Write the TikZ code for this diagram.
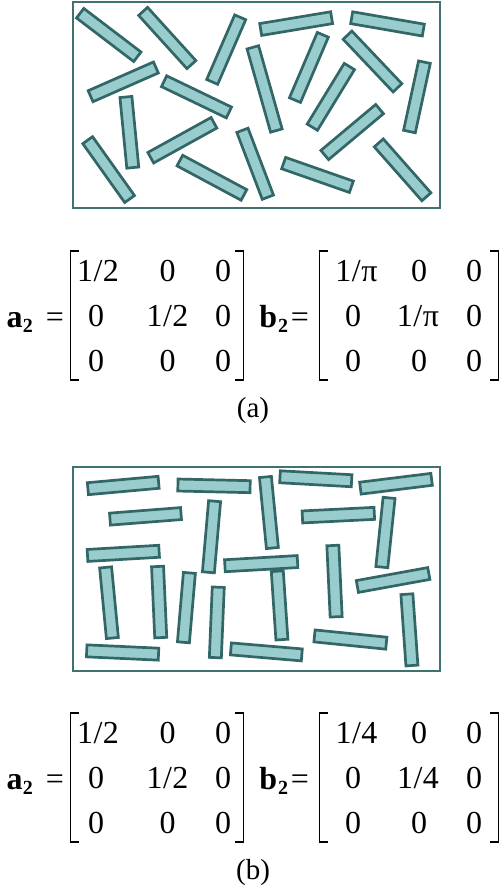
\documentclass[tikz,border=0pt]{standalone}
\usepackage{fontspec}
\setmainfont{Liberation Serif}
\usetikzlibrary{calc}
\definecolor{fibfill}{HTML}{99CCCC}
\definecolor{fibline}{HTML}{336666}
\definecolor{boxline}{HTML}{417272}
\newcommand\fib[4]{%
  \coordinate (fa) at ($(#1,#2)!1.2pt!(#3,#4)$);
  \coordinate (fb) at ($(#3,#4)!1.2pt!(#1,#2)$);
  \draw[fiber] ($(fa)!6pt!90:(fb)$) -- ($(fa)!6pt!-90:(fb)$) -- ($(fb)!6pt!90:(fa)$) -- ($(fb)!6pt!-90:(fa)$) -- cycle;}
\newcommand\brk[4]{% x, ytop, ybottom, tick length (signed)
  \draw[bracket] ($(#1,#2)+(#4,0)$) -- (#1,#2) -- (#1,#3) -- ($(#1,#3)+(#4,0)$);}
\begin{document}
\begin{tikzpicture}[x=1pt,y=-1pt,
  fiber/.style={draw=fibline, fill=fibfill, line width=2.7pt, line join=miter},
  panel/.style={draw=boxline, line width=2pt},
  bracket/.style={draw=black, line width=1.5pt},
  txt/.style={font=\fontsize{32}{36}\selectfont, inner sep=0pt, anchor=base},
  subtxt/.style={font=\fontsize{20}{22}\selectfont\bfseries, inner sep=0pt, anchor=base},
  lbl/.style={font=\fontsize{29}{33}\selectfont, inner sep=0pt, anchor=base}]
\useasboundingbox (0,0) rectangle (503,896);
% ---------------- panel (a) ----------------
\draw[panel] (72.5,2.5) rectangle (439.5,207.5);
\fib{79.2}{12.5}{138.3}{57.5}
\fib{142.3}{10.5}{192.2}{65.5}
\fib{240.7}{16.2}{211.7}{83}
\fib{89.5}{96.7}{157}{67}
\fib{163}{80.7}{230}{113}
\fib{125.8}{95.8}{132.9}{168.8}
\fib{87}{139.2}{130.3}{200}
\fib{149.7}{158.3}{215}{122.2}
\fib{178.8}{160}{245}{195.5}
\fib{242}{129.2}{268.3}{198.3}
\fib{259.5}{29.7}{332.8}{17.5}
\fib{350.5}{17.5}{424.5}{30.3}
\fib{252.5}{46.2}{276.7}{131.7}
\fib{323.3}{33.7}{294.5}{101.2}
\fib{346.7}{34.3}{398.3}{88.7}
\fib{424.7}{61}{409.2}{132.7}
\fib{350}{65.5}{311.7}{128.2}
\fib{323.8}{155.8}{380.5}{108.3}
\fib{282.5}{162.7}{352.5}{187.2}
\fib{378}{142}{427.2}{197.7}
% ---------------- panel (b) ----------------
\draw[panel] (72.5,466.5) rectangle (439.5,671);
\fib{86.7}{488.8}{159.8}{482.2}
\fib{176.7}{485}{251.3}{486.7}
\fib{108.8}{519.2}{182.2}{513.5}
\fib{86.3}{555.5}{160.3}{551.2}
\fib{214.7}{500}{208.3}{573.5}
\fib{265.3}{475.8}{272.5}{549.2}
\fib{278.8}{476.7}{352.8}{480.8}
\fib{359.2}{488.3}{432.8}{479.2}
\fib{301.2}{517}{375.5}{513.3}
\fib{389.2}{496.7}{381.7}{568.3}
\fib{332.8}{544.3}{336.2}{618}
\fib{223.7}{565.8}{298.7}{561.5}
\fib{277.2}{570}{282}{640.8}
\fib{85.5}{650.8}{159.7}{654.2}
\fib{229.7}{648.8}{303}{655}
\fib{356.2}{586.7}{430}{573.3}
\fib{313.3}{635.8}{387.5}{643.3}
\fib{406.8}{593}{412}{666.7}
\fib{105.5}{566.2}{112.5}{639.2}
\fib{157.5}{565.3}{160.8}{638.8}
\fib{189.5}{571.7}{183.3}{643.5}
\fib{218.3}{586}{215.3}{658.8}
% ---------------- matrices ----------------
\foreach \dy/\p in {0/a, 462/b} {
  \begin{scope}[yshift={-\dy pt}]
  % a2 =
  \node[txt] (\p-a) at (14.5,327) {\bfseries a};
  \node[subtxt] (\p-a2) at (28,332) {2};
  \node[txt] (\p-aeq) at (55,327) {=};
  \brk{70.5}{251}{380}{8.5}
  \brk{243.5}{251}{380}{-8.5}
  \node[txt] (\p-a11) at (98,281) {1\kern0.5pt/\kern0.5pt2};
  \node[txt] (\p-a12) at (167.5,281) {0};
  \node[txt] (\p-a13) at (223,281) {0};
  \node[txt] (\p-a21) at (96,326) {0};
  \node[txt] (\p-a22) at (167.5,326) {1\kern0.5pt/\kern0.5pt2};
  \node[txt] (\p-a23) at (223,326) {0};
  \node[txt] (\p-a31) at (96,371) {0};
  \node[txt] (\p-a32) at (167.5,371) {0};
  \node[txt] (\p-a33) at (223,371) {0};
  % b2 =
  \node[txt] (\p-b) at (268.3,327) {\bfseries b};
  \node[subtxt] (\p-b2) at (283,332) {2};
  \node[txt] (\p-beq) at (300,327) {=};
  \brk{319.5}{251}{380}{8.5}
  \brk{498.5}{251}{380}{-8.5}
  \end{scope}
}
% b-matrix entries, panel (a)
\node[txt] (a-b11) at (356.5,281) {1\kern0.5pt/\kern0.5ptπ};
\node[txt] (a-b12) at (419,281) {0};
\node[txt] (a-b13) at (474,281) {0};
\node[txt] (a-b21) at (353,326) {0};
\node[txt] (a-b22) at (418,326) {1\kern0.5pt/\kern0.5ptπ};
\node[txt] (a-b23) at (474,326) {0};
\node[txt] (a-b31) at (353,371) {0};
\node[txt] (a-b32) at (419,371) {0};
\node[txt] (a-b33) at (474,371) {0};
% b-matrix entries, panel (b)
\node[txt] (b-b11) at (356.5,743) {1\kern0.5pt/\kern0.5pt4};
\node[txt] (b-b12) at (419,743) {0};
\node[txt] (b-b13) at (474,743) {0};
\node[txt] (b-b21) at (353,788) {0};
\node[txt] (b-b22) at (418,788) {1\kern0.5pt/\kern0.5pt4};
\node[txt] (b-b23) at (474,788) {0};
\node[txt] (b-b31) at (353,833) {0};
\node[txt] (b-b32) at (419,833) {0};
\node[txt] (b-b33) at (474,833) {0};
% captions
\node[lbl] (capa) at (253,417) {(a)};
\node[lbl] (capb) at (253,879) {(b)};
\end{tikzpicture}
\end{document}
